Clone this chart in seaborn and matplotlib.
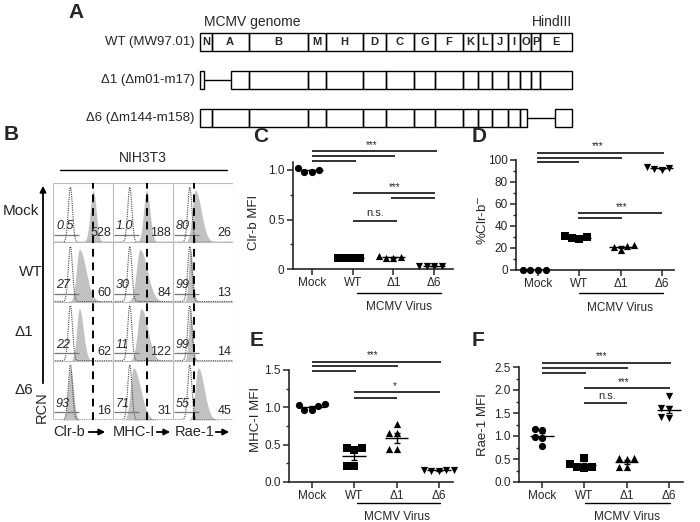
import numpy as np
import pandas as pd
import matplotlib
matplotlib.use("Agg")
import matplotlib.pyplot as plt
import matplotlib.transforms as mtransforms
from matplotlib.patches import Rectangle
from matplotlib.ticker import FixedLocator, FixedFormatter
import seaborn as sns

sns.set_style("ticks")
plt.rcParams['font.family'] = ['Liberation Sans', 'DejaVu Sans']

W, H = 700, 522

# ---- panel A: HindIII map, fragment edges in % of genome
frag_names = ["N", "A", "B", "M", "H", "D", "C", "G", "F", "K", "L", "J", "I", "O", "P", "E"]
frag_edges = [0, 3.1, 13.1, 29.1, 33.9, 43.7, 50.0, 57.5, 63.3, 70.6, 74.6, 78.5, 82.7, 86.1, 89.1, 91.5, 100]
map_rows = ["WT (MW97.01)", "Δ1 (Δm01-m17)", "Δ6 (Δm144-m158)"]
map_cuts = [None, (1.0, 8.2), (87.9, 95.4)]

# ---- panel B: flow histograms
b_rows = ["Mock", "WT", "Δ1", "Δ6"]
b_markers = ["Clr-b", "MHC-I", "Rae-1"]
b_pct = [["0.5", "1.0", "80"], ["27", "30", "99"], ["22", "11", "99"], ["93", "71", "55"]]
b_mfi = [[528, 188, 26], [60, 84, 13], [62, 122, 14], [16, 31, 45]]
iso_peak = [0.29, 0.28, 0.28]
stain_peak = [[0.67, 0.56, 0.37], [0.44, 0.45, 0.29], [0.44, 0.47, 0.29], [0.29, 0.34, 0.42]]
stain_left = [[0.05, 0.05, 0.05], [0.05, 0.06, 0.03], [0.045, 0.06, 0.03], [0.04, 0.05, 0.05]]
stain_right = [[0.05, 0.055, 0.10], [0.11, 0.12, 0.04], [0.065, 0.11, 0.035], [0.05, 0.12, 0.10]]
mock_line = [0.66, 0.56, 0.35]

# ---- panels C-F
groups = ["Mock", "WT", "Δ1", "Δ6"]
group_markers = ["o", "s", "^", "v"]
clrb_mfi = {"Mock": [1.00, 0.98, 0.98, 1.02], "WT": [0.11, 0.11, 0.11, 0.11],
            "Δ1": [0.11, 0.11, 0.12, 0.13], "Δ6": [0.03, 0.03, 0.03, 0.03]}
clrb_neg = {"Mock": [0, 0, 0, 0], "WT": [28, 30, 31, 29],
            "Δ1": [18, 22, 23, 21], "Δ6": [91, 93, 94, 92]}
mhc_mfi = {"Mock": [1.03, 1.04, 0.96, 1.02, 0.96], "WT": [0.45, 0.43, 0.46, 0.22, 0.21],
           "Δ1": [0.78, 0.65, 0.66, 0.44, 0.44], "Δ6": [0.16, 0.16, 0.15, 0.16, 0.15]}
rae_mfi = {"Mock": [1.15, 1.12, 0.98, 0.95, 0.78], "WT": [0.53, 0.40, 0.32, 0.30, 0.33],
           "Δ1": [0.52, 0.52, 0.50, 0.32, 0.32], "Δ6": [1.86, 1.60, 1.58, 1.42, 1.40]}

fig = plt.figure(figsize=(W / 100, H / 100), dpi=100)


def add_ax(l, t, r, b):
    return fig.add_axes([l / W, 1 - b / H, (r - l) / W, (b - t) / H])


def ftext(x, y, s, **kw):
    fig.text(x / W, 1 - y / H, s, **kw)


def farrow(x1, y1, x2, y2, lw=1.3):
    fig.add_artist(matplotlib.patches.FancyArrowPatch(
        (x1 / W, 1 - y1 / H), (x2 / W, 1 - y2 / H), transform=fig.transFigure,
        arrowstyle='-|>', mutation_scale=9, lw=lw, color='black'))


# panel letters
for lab, x, y in [("A", 68, 12), ("B", 4, 134), ("C", 253, 137), ("D", 472, 137), ("E", 250, 340), ("F", 472, 340)]:
    ftext(x, y, lab, fontsize=15, fontweight='bold', va='center', ha='left')

# ---------------- A
axA = add_ax(200, 0, 572, 140)
axA.set_xlim(0, 100)
axA.set_ylim(140, 0)
axA.axis('off')
row_y = [42, 80, 118]
for i, (name, cut) in enumerate(zip(map_rows, map_cuts)):
    y = row_y[i]
    for j in range(len(frag_names)):
        a, b = frag_edges[j], frag_edges[j + 1]
        segs = []
        if cut is None or b <= cut[0] or a >= cut[1]:
            segs.append((a, b))
        else:
            if a < cut[0]:
                segs.append((a, cut[0]))
            if b > cut[1]:
                segs.append((cut[1], b))
        for a2, b2 in segs:
            axA.add_patch(Rectangle((a2, y - 9), b2 - a2, 18, fill=False, lw=1.0,
                                    edgecolor='black', clip_on=False))
            if cut is None:
                axA.text((a2 + b2) / 2, y, frag_names[j], ha='center', va='center',
                         fontsize=8, fontweight='bold')
    if cut is not None:
        axA.plot(cut, [y, y], color='black', lw=1.0, clip_on=False)
    axA.text(-1.5, y, name, ha='right', va='center', fontsize=9.5)
axA.text(1, 22, "MCMV genome", ha='left', va='center', fontsize=10)
axA.text(100, 22, "HindIII", ha='right', va='center', fontsize=10)

# ---------------- B
axB = add_ax(53, 183, 233, 420)
axB.set_xlim(0, 3)
axB.set_ylim(0, 4)
axB.axis('off')
xs = np.linspace(0, 1, 300)
for r in range(4):
    y0 = 3 - r
    for c in range(3):
        iso = 0.93 * np.exp(-0.5 * ((xs - iso_peak[c]) / 0.035) ** 2)
        sd = np.where(xs < stain_peak[r][c], stain_left[r][c], stain_right[r][c])
        st = 0.88 * np.exp(-0.5 * ((xs - stain_peak[r][c]) / sd) ** 2)
        axB.fill_between(c + xs, y0, y0 + st, color='#c2c2c2', lw=0)
        axB.plot(c + xs, y0 + iso, color='#444444', lw=0.8, ls=(0, (1, 1)))
        axB.hlines(y0 + 0.13, c + 0.01, c + 0.43, color='#777777', lw=0.9)
        axB.text(c + 0.05, y0 + 0.17, b_pct[r][c], style='italic', fontsize=9, va='bottom', ha='left')
        axB.text(c + 0.97, y0 + 0.05, str(b_mfi[r][c]), fontsize=9, va='bottom', ha='right')
for k in range(5):
    axB.hlines(k, 0, 3, color='#bbbbbb', lw=0.8)
for k in range(4):
    axB.vlines(k, 0, 4, color='#bbbbbb', lw=0.8)
for c in range(3):
    axB.vlines(c + mock_line[c], 0, 4, color='black', lw=1.4, linestyles=(0, (4, 3)))

ftext(143, 158, "NIH3T3", ha='center', va='center', fontsize=10)
fig.add_artist(matplotlib.lines.Line2D([60 / W, 227 / W], [1 - 170 / H, 1 - 170 / H], color='black', lw=1.0))
for lab, x, y in zip(b_rows, [21, 31, 24, 24], [211, 272, 332, 390]):
    ftext(x, y, lab, ha='center', va='center', fontsize=11)
farrow(43, 386, 43, 183)
ftext(42, 407, "RCN", rotation=90, ha='center', va='center', fontsize=10.5)
for lab, x, a1, a2 in zip(b_markers, [53, 113, 175], [86, 154, 213], [108, 173, 232]):
    ftext(x, 432, lab, ha='left', va='center', fontsize=10.5)
    farrow(a1, 432, a2, 432)


# ---------------- C-F
def scatter_panel(data, x0, dx, xlim, y0, ppu, ylim, ytop, major, minor, ylabels):
    l, r = x0 + xlim[0] * dx, x0 + xlim[1] * dx
    t, b = y0 - ylim[1] * ppu, y0 - ylim[0] * ppu
    ax = add_ax(l, t, r, b)
    for g, m in zip(groups, group_markers):
        sub = pd.DataFrame({"group": g, "value": data[g]})
        sns.swarmplot(data=sub, x="group", y="value", order=groups, marker=m,
                      color='black', size=5.2, ax=ax, linewidth=0)
    for c in ax.collections:
        c.set_clip_on(False)
    for i, g in enumerate(groups):
        v = np.array(data[g], dtype=float)
        mean = v.mean()
        sem = v.std(ddof=1) / np.sqrt(len(v))
        ax.hlines(mean, i - 0.28, i + 0.28, color='black', lw=1.0, zorder=4)
        ax.errorbar(i, mean, yerr=sem, color='black', lw=1.0, capsize=2.5, capthick=1.0, zorder=4)
    ax.set_xlim(xlim)
    ax.set_ylim(ylim)
    ax.set_xlabel("")
    ax.set_ylabel("")
    sns.despine(ax=ax)
    ax.spines['left'].set_bounds(0, ytop)
    ax.spines['left'].set_linewidth(1.2)
    ax.spines['bottom'].set_linewidth(1.2)
    ax.yaxis.set_major_locator(FixedLocator(major))
    ax.yaxis.set_major_formatter(FixedFormatter(ylabels))
    ax.yaxis.set_minor_locator(FixedLocator(minor))
    ax.set_xticks(range(4))
    ax.set_xticklabels(groups)
    ax.tick_params(axis='both', which='major', direction='out', length=4, width=1.1, labelsize=8.5, pad=2)
    ax.tick_params(axis='y', which='minor', direction='out', length=2.5, width=1.0)
    return ax


def sig(ax, x1, x2, y):
    ax.plot([x1, x2], [y, y], color='#222222', lw=1.3, clip_on=False, solid_capstyle='butt')


def virus_label(ax, x1, x2, xt, yline, ytext):
    tr = mtransforms.blended_transform_factory(ax.transData, fig.transFigure)
    ax.plot([x1, x2], [1 - yline / H] * 2, transform=tr, color='black', lw=1.0, clip_on=False)
    ax.text(xt, 1 - ytext / H, "MCMV Virus", transform=tr, ha='center', va='center', fontsize=8.5)


# C
axC = scatter_panel(clrb_mfi, 312, 40.7, (-0.47, 3.46), 269, 99, (0, 1.32), 1.08,
                    [0, 0.5, 1.0], [0.25, 0.75], ["0", "0.5", "1.0"])
for xe, y in [(1.08, 1.09), (2.05, 1.14), (3.07, 1.19)]:
    sig(axC, 0, xe, y)
axC.text(1.47, 1.25, "***", ha='center', va='center', fontsize=7)
sig(axC, 1.0, 3.02, 0.77)
sig(axC, 1.95, 3.02, 0.72)
axC.text(2.04, 0.83, "***", ha='center', va='center', fontsize=7)
sig(axC, 1.0, 2.08, 0.485)
axC.text(1.55, 0.565, "n.s.", ha='center', va='center', fontsize=8)
virus_label(axC, 1.1, 3.17, 2.14, 293, 307)
ftext(254, 222, "Clr-b MFI", rotation=90, ha='center', va='center', fontsize=9.5)

# D
axD = scatter_panel(clrb_neg, 538, 41.3, (-0.53, 3.3), 270, 1.1, (0, 118), 100,
                    [0, 20, 40, 60, 80, 100], [10, 30, 50, 70, 90], ["0", "20", "40", "60", "80", "100"])
for xe, y in [(1.0, 98), (2.04, 102), (3.04, 106)]:
    sig(axD, -0.02, xe, y)
axD.text(1.45, 113, "***", ha='center', va='center', fontsize=7)
sig(axD, 0.97, 3.0, 52)
sig(axD, 0.97, 2.04, 47)
axD.text(2.03, 57, "***", ha='center', va='center', fontsize=7)
virus_label(axD, 1.0, 3.03, 1.99, 293, 308)
ftext(483, 220, "%Clr-b$^{-}$", rotation=90, ha='center', va='center', fontsize=9.5)

# E
axE = scatter_panel(mhc_mfi, 312, 42.3, (-0.54, 3.33), 482, 74.7, (0, 1.78), 1.5,
                    [0, 0.5, 1.0, 1.5], [0.25, 0.75, 1.25], ["0.0", "0.5", "1.0", "1.5"])
for xe, y in [(1.04, 1.48), (2.04, 1.55), (3.04, 1.61)]:
    sig(axE, 0, xe, y)
axE.text(1.44, 1.70, "***", ha='center', va='center', fontsize=7)
sig(axE, 1.0, 3.02, 1.2)
sig(axE, 1.0, 2.02, 1.12)
axE.text(1.96, 1.28, "*", ha='center', va='center', fontsize=7)
virus_label(axE, 1.06, 3.03, 2.0, 503, 517)
ftext(256, 419, "MHC-I MFI", rotation=90, ha='center', va='center', fontsize=9.5)

# F
axF = scatter_panel(rae_mfi, 542, 42.3, (-0.54, 3.33), 482, 46, (0, 2.85), 2.5,
                    [0, 0.5, 1.0, 1.5, 2.0, 2.5], [0.25, 0.75, 1.25, 1.75, 2.25],
                    ["0.0", "0.5", "1.0", "1.5", "2.0", "2.5"])
for xe, y in [(1.04, 2.37), (2.04, 2.48), (3.04, 2.59)]:
    sig(axF, 0, xe, y)
axF.text(1.42, 2.74, "***", ha='center', va='center', fontsize=7)
sig(axF, 1.0, 3.02, 2.04)
axF.text(1.94, 2.17, "***", ha='center', va='center', fontsize=7)
sig(axF, 1.0, 2.02, 1.72)
axF.text(1.54, 1.86, "n.s.", ha='center', va='center', fontsize=8)
virus_label(axF, 1.02, 3.03, 2.0, 503, 517)
ftext(483, 425, "Rae-1 MFI", rotation=90, ha='center', va='center', fontsize=9.5)

fig.savefig("out.png", dpi=100)
